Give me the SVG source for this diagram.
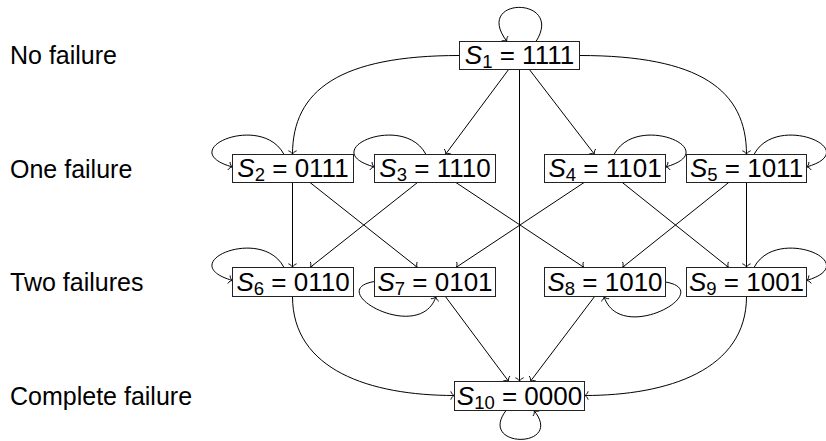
<svg xmlns="http://www.w3.org/2000/svg" width="826" height="441" viewBox="0 0 826 441">
<defs>
<style>
.lbl{font-family:"Liberation Sans",Arial,sans-serif;font-size:25px;fill:#000}
.box{fill:#fff;stroke:#222;stroke-width:1}
.nt{font-family:"Liberation Sans",Arial,sans-serif;font-size:26px;fill:#000;text-anchor:middle}
.it{font-style:italic}
.sub{font-size:18.5px}
.e{fill:none;stroke:#000;stroke-width:1;marker-end:url(#arr)}
</style>
<marker id="arr" viewBox="-6 -6 12 12" markerWidth="12" markerHeight="12" refX="0" refY="0" orient="auto" markerUnits="userSpaceOnUse">
<path d="M-3.6,-3.8 C-3,-1.6 -1.2,-0.4 0,0 C-1.2,0.4 -3,1.6 -3.6,3.8" fill="none" stroke="#000" stroke-width="0.9" stroke-linecap="round"/>
</marker>
</defs>
<rect width="826" height="441" fill="#fff"/>
<g id="labels">
<text class="lbl" x="10" y="64">No failure</text>
<text class="lbl" x="10" y="177.5">One failure</text>
<text class="lbl" x="10" y="291">Two failures</text>
<text class="lbl" x="10" y="404.5">Complete failure</text>
</g>
<g id="connectors">
<path class="e" d="M536,41.5 C565,-4 472,-4 507,41.5"/>
<path class="e" d="M459.5,55.5 C340,55.5 292.5,90 292.5,154.5"/>
<path class="e" d="M579.5,55.5 C700,55.5 746.5,90 746.5,154.5"/>
<path class="e" d="M508.6,69.5 L445.4,154.5"/>
<path class="e" d="M529.4,69.5 L594.6,154.5"/>
<path class="e" d="M519.5,69.5 L519.5,381.5"/>
<path class="e" d="M284,154.5 C262,112 172,150 232.5,167"/>
<path class="e" d="M426,154.5 C404,112 314,150 374.5,167"/>
<path class="e" d="M614,154.5 C636,112 726,150 665.5,167"/>
<path class="e" d="M754,154.5 C776,112 866,150 806.5,167"/>
<path class="e" d="M292.5,182.5 L292.5,267.5"/>
<path class="e" d="M310,182.5 L417.5,267.5"/>
<path class="e" d="M417.5,182.5 L310,267.5"/>
<path class="e" d="M455.9,182.5 L584.1,267.5"/>
<path class="e" d="M584.1,182.5 L455.9,267.5"/>
<path class="e" d="M622.3,182.5 L728.7,267.5"/>
<path class="e" d="M728.7,182.5 L622.3,267.5"/>
<path class="e" d="M746.5,182.5 L746.5,267.5"/>
<path class="e" d="M284,267.5 C262,225 172,263 232.5,280.5"/>
<path class="e" d="M754,267.5 C776,225 866,263 806.5,280.5"/>
<path class="e" d="M374.5,281.5 C322,290 420,345 436,296.5"/>
<path class="e" d="M665.5,282 C718,291 620,346 604,296.5"/>
<path class="e" d="M445.4,296.5 L508.7,381.5"/>
<path class="e" d="M594.6,296.5 L530.3,381.5"/>
<path class="e" d="M292.5,296.5 C292.5,370 370,395.5 454.5,395.5"/>
<path class="e" d="M746.5,296.5 C746.5,370 668,395.5 584.5,395.5"/>
<path class="e" d="M506,410.5 C477,449 565,449 534,410.5"/>
</g>
<g id="S1"><rect class="box" x="459.5" y="41.5" width="120" height="28"/><text class="nt" x="519.5" y="64"><tspan class="it">S</tspan><tspan class="sub" dy="4">1</tspan><tspan dy="-4"> = 1111</tspan></text></g>
<g id="S2"><rect class="box" x="232.5" y="154.5" width="121" height="28"/><text class="nt" x="293" y="177"><tspan class="it">S</tspan><tspan class="sub" dy="4">2</tspan><tspan dy="-4"> = 0111</tspan></text></g>
<g id="S3"><rect class="box" x="374.5" y="154.5" width="121" height="28"/><text class="nt" x="435" y="177"><tspan class="it">S</tspan><tspan class="sub" dy="4">3</tspan><tspan dy="-4"> = 1110</tspan></text></g>
<g id="S4"><rect class="box" x="544.5" y="154.5" width="121" height="28"/><text class="nt" x="605" y="177"><tspan class="it">S</tspan><tspan class="sub" dy="4">4</tspan><tspan dy="-4"> = 1101</tspan></text></g>
<g id="S5"><rect class="box" x="686.5" y="154.5" width="120" height="28"/><text class="nt" x="746.5" y="177"><tspan class="it">S</tspan><tspan class="sub" dy="4">5</tspan><tspan dy="-4"> = 1011</tspan></text></g>
<g id="S6"><rect class="box" x="232.5" y="267.5" width="121" height="29"/><text class="nt" x="293" y="290.5"><tspan class="it">S</tspan><tspan class="sub" dy="4">6</tspan><tspan dy="-4"> = 0110</tspan></text></g>
<g id="S7"><rect class="box" x="374.5" y="267.5" width="121" height="29"/><text class="nt" x="435" y="290.5"><tspan class="it">S</tspan><tspan class="sub" dy="4">7</tspan><tspan dy="-4"> = 0101</tspan></text></g>
<g id="S8"><rect class="box" x="544.5" y="267.5" width="121" height="29"/><text class="nt" x="605" y="290.5"><tspan class="it">S</tspan><tspan class="sub" dy="4">8</tspan><tspan dy="-4"> = 1010</tspan></text></g>
<g id="S9"><rect class="box" x="686.5" y="267.5" width="120" height="29"/><text class="nt" x="746.5" y="290.5"><tspan class="it">S</tspan><tspan class="sub" dy="4">9</tspan><tspan dy="-4"> = 1001</tspan></text></g>
<g id="S10"><rect class="box" x="454.5" y="381.5" width="130" height="29"/><text class="nt" x="519.5" y="404.5"><tspan class="it">S</tspan><tspan class="sub" dy="4">10</tspan><tspan dy="-4"> = 0000</tspan></text></g>
</svg>
